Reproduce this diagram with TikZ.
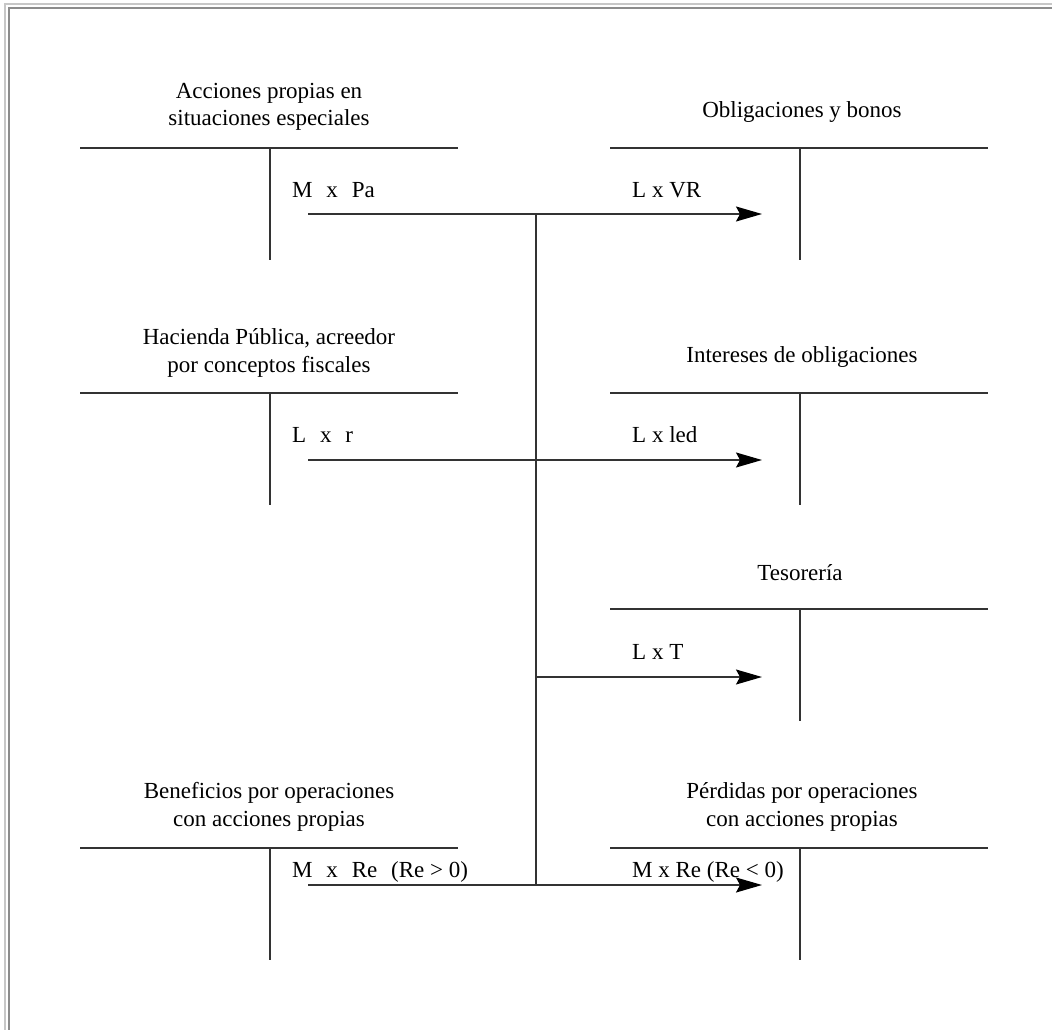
\documentclass[tikz,border=0pt]{standalone}
\usepackage{fontspec}
\setmainfont{Liberation Serif}
\usetikzlibrary{arrows.meta}
\begin{document}
\begin{tikzpicture}[x=1pt,y=-1pt,
  rule/.style={line width=1.4pt,draw=black!80},
  flow/.style={line width=1.4pt,draw=black!80},
  flowarrow/.style={flow,-{Stealth[length=26pt,width=15pt,inset=4pt,color=black]}},
  title/.style={align=center,inner sep=0pt,font=\fontsize{23}{28}\selectfont},
  entry/.style={anchor=base west,inner sep=0pt,font=\fontsize{23}{28}\selectfont}]
\useasboundingbox (0,0) rectangle (1052,1030);
% page frame
\draw[black!22,line width=1.2pt] (5,1030) -- (5,4) -- (1052,4);
\draw[black!45,line width=2.2pt] (9,1030) -- (9,8) -- (1052,8);

% T-accounts: left column
\foreach \n/\y in {aps/148,hp/393,ben/848}{
  \coordinate (\n-l) at (80,\y);
  \coordinate (\n-r) at (458,\y);
  \coordinate (\n-t) at (270,\y);
  \coordinate (\n-b) at (270,\y+112);
  \draw[rule] (\n-l) -- (\n-r);
  \draw[rule] (\n-t) -- (\n-b);
}
% T-accounts: right column
\foreach \n/\y in {obl/148,int/393,tes/609,per/848}{
  \coordinate (\n-l) at (610,\y);
  \coordinate (\n-r) at (988,\y);
  \coordinate (\n-t) at (800,\y);
  \coordinate (\n-b) at (800,\y+112);
  \draw[rule] (\n-l) -- (\n-r);
  \draw[rule] (\n-t) -- (\n-b);
}

% account titles (base anchor sits on the last line)
\node[title,anchor=base] (taps) at (269,126) {Acciones propias en\\situaciones especiales};
\node[title,anchor=base] (tobl) at (802,118) {Obligaciones y bonos};
\node[title,anchor=base] (thp) at (269,372) {Hacienda Pública, acreedor\\por conceptos fiscales};
\node[title,anchor=base] (tint) at (802,362) {Intereses de obligaciones};
\node[title,anchor=base] (ttes) at (800,580) {Tesorería};
\node[title,anchor=base] (tben) at (269,826) {Beneficios por operaciones\\con acciones propias};
\node[title,anchor=base] (tper) at (802,826) {Pérdidas por operaciones\\con acciones propias};

% entry flows
\coordinate (s1) at (308,214);
\coordinate (e1) at (762,214);
\coordinate (j1) at (536,214);
\coordinate (s2) at (308,460);
\coordinate (e2) at (762,460);
\coordinate (j3) at (536,677);
\coordinate (e3) at (762,677);
\coordinate (s4) at (308,885);
\coordinate (e4) at (762,885);
\coordinate (j4) at (536,885);

\draw[flow] (j1) -- (j4);
\draw[flowarrow] (s1) -- (e1);
\draw[flowarrow] (s2) -- (e2);
\draw[flowarrow] (j3) -- (e3);
\draw[flowarrow] (s4) -- (e4);

% entry amounts
\node[entry] (m1) at (292,197) {M\hspace{0.6em}x\hspace{0.6em}Pa};
\node[entry] (m2) at (632,197) {L x VR};
\node[entry] (m3) at (292,442) {L\hspace{0.6em}x\hspace{0.6em}r};
\node[entry] (m4) at (632,442) {L x led};
\node[entry] (m5) at (632,659) {L x T};
\node[entry] (m6) at (292,877) {M\hspace{0.6em}x\hspace{0.6em}Re\hspace{0.6em}(Re > 0)};
\node[entry] (m7) at (632,877) {M x Re (Re < 0)};
\end{tikzpicture}
\end{document}
